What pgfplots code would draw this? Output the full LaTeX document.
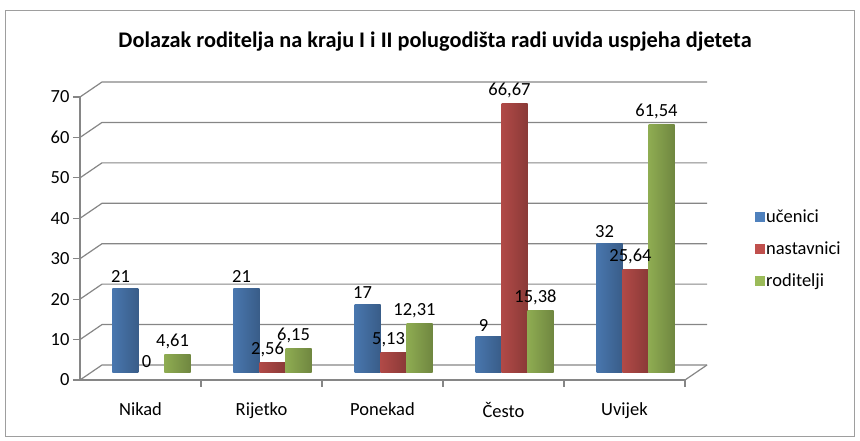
\documentclass[border=0pt]{standalone}
\usepackage{fontspec}
\setmainfont{Carlito}
\usepackage{pgfplots}
\pgfplotsset{compat=1.18}
\definecolor{blueC}{HTML}{4F81BD}
\definecolor{redC}{HTML}{C0504D}
\definecolor{greenC}{HTML}{9BBB59}
\definecolor{gridC}{HTML}{868686}
\pgfplotsset{
  cyl/.style={draw=none, left color=#1!92!black, middle color=#1!70!white, right color=#1!72!black,
    xshift=11pt, yshift=7pt, forget plot},
}
% one bar: colour, bar shift, category, value
\newcommand\cyl[4]{\addplot[cyl=#1, bar shift=#2] coordinates {(#3,#4)};}
\begin{document}
\begin{tikzpicture}
\useasboundingbox (0,0) rectangle (860pt,441pt);
\draw[gridC!80, line width=0.8pt] (5pt,5pt) rectangle (854pt,431pt);
\node[font=\fontsize{22.3}{25}\selectfont\bfseries] at (435pt,399pt) {Dolazak roditelja na kraju I i II polugodišta radi uvida uspjeha djeteta};
\begin{axis}[
  scale only axis, width=605pt, height=283pt, at={(80pt,61pt)}, anchor=south west,
  xmin=-0.5, xmax=4.5, ymin=0, ymax=70,
  axis x line*=bottom, axis y line*=left,
  axis line style={gridC, line width=1.2pt, -},
  ytick={0,10,...,70},
  xtick={0.5,1.5,2.5,3.5,4.5}, xticklabels={{},{},{},{},{}},
  extra x ticks={0,1,2,3,4},
  extra x tick labels={Nikad,Rijetko,Ponekad,Često,Uvijek},
  extra x tick style={major tick length=0pt, tick style={draw=none}, xticklabel style={yshift=-19pt}},
  tick align=outside, major tick length=7pt,
  tick style={gridC, line width=1.2pt},
  ticklabel style={font=\fontsize{18.5}{20}\selectfont, text=black},
  /pgf/number format/assume math mode=true,
  /pgf/number format/use comma,
  ybar=0pt, bar width=26pt,
  nodes near coords,
  every node near coord/.append style={font=\fontsize{18.5}{20}\selectfont, text=black, xshift=-5pt, yshift=2pt},
  clip=false,
  legend cell align=left,
  legend style={at={(axis description cs:1.11,0.463)}, anchor=west, draw=none, fill=none,
    font=\fontsize{18.5}{20}\selectfont, row sep=14pt},
]
\pgfplotsinvokeforeach{0,10,...,70}{
  \draw[gridC, line width=1.2pt] (axis cs:-0.5,#1) -- ([shift={(22pt,15pt)}]axis cs:-0.5,#1) -- ([shift={(22pt,15pt)}]axis cs:4.5,#1);
}
\draw[gridC, line width=1.2pt] (axis cs:4.5,0) -- ([shift={(22pt,15pt)}]axis cs:4.5,0);
% učenici
\cyl{blueC}{-26pt}{0}{21}
\cyl{blueC}{-26pt}{1}{21}
\cyl{blueC}{-26pt}{2}{17}
\cyl{blueC}{-26pt}{3}{9}
\cyl{blueC}{-26pt}{4}{32}
% nastavnici
\cyl{redC}{0pt}{0}{0}
\cyl{redC}{0pt}{1}{2.56}
\cyl{redC}{0pt}{2}{5.13}
\cyl{redC}{0pt}{3}{66.67}
\cyl{redC}{0pt}{4}{25.64}
% roditelji
\cyl{greenC}{26pt}{0}{4.61}
\cyl{greenC}{26pt}{1}{6.15}
\cyl{greenC}{26pt}{2}{12.31}
\cyl{greenC}{26pt}{3}{15.38}
\cyl{greenC}{26pt}{4}{61.54}
\addlegendimage{legend image code/.code={\fill[blueC] (0pt,-4.5pt) rectangle (9pt,4.5pt);}}
\addlegendentry{učenici}
\addlegendimage{legend image code/.code={\fill[redC] (0pt,-4.5pt) rectangle (9pt,4.5pt);}}
\addlegendentry{nastavnici}
\addlegendimage{legend image code/.code={\fill[greenC] (0pt,-4.5pt) rectangle (9pt,4.5pt);}}
\addlegendentry{roditelji}
\end{axis}
\end{tikzpicture}
\end{document}
